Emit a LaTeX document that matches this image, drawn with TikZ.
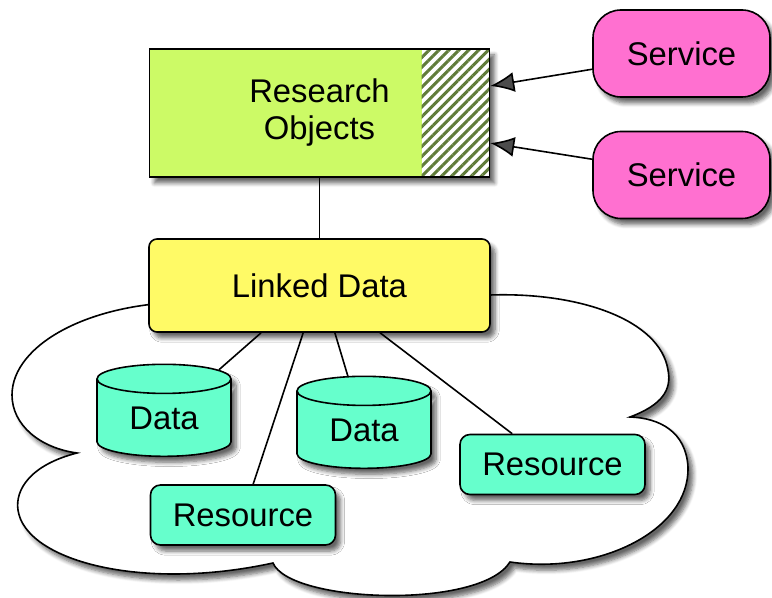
\documentclass[tikz,border=0pt]{standalone}
\usepackage{fontspec}
\setmainfont{Liberation Sans}
\usetikzlibrary{shapes.geometric,arrows.meta,patterns.meta,shadows.blur}

\definecolor{roGreen}{RGB}{204,250,102}
\definecolor{ldYellow}{RGB}{255,250,102}
\definecolor{dataTeal}{RGB}{102,255,204}
\definecolor{svcPink}{RGB}{255,112,208}
\definecolor{hatchGreen}{RGB}{96,124,58}

\tikzset{
  shade/.style={blur shadow={shadow xshift=2.5pt, shadow yshift=-3pt, shadow blur steps=6, shadow opacity=60}},
  box/.style={draw, line width=0.8pt, shade, inner sep=0pt, align=center,
    font=\fontsize{16.4}{18.5}\selectfont},
  robox/.style={box, fill=roGreen, minimum width=170pt, minimum height=64pt,
    path picture={
      \fill[white] ([xshift=-34pt]path picture bounding box.north east) rectangle (path picture bounding box.south east);
      \fill[pattern={Lines[angle=45, distance=3.5pt, line width=1.5pt]}, pattern color=hatchGreen]
        ([xshift=-34pt]path picture bounding box.north east) rectangle (path picture bounding box.south east);
    }},
  ldbox/.style={box, fill=ldYellow, rounded corners=4pt, minimum width=170.5pt, minimum height=46.5pt},
  svcbox/.style={box, fill=svcPink, rounded corners=14pt, minimum width=88.5pt, minimum height=43.5pt},
  resbox/.style={box, fill=dataTeal, rounded corners=5pt, minimum width=92.5pt, minimum height=30pt},
  database/.style={box, fill=dataTeal, shape=cylinder, shape border rotate=90, aspect=0.42,
    minimum width=67pt, minimum height=46pt},
  link/.style={line width=0.8pt},
  calls/.style={link, -{Latex[length=12pt, width=10pt]}}
}

\begin{document}
\begin{tikzpicture}[x=0.5pt, y=-0.5pt]
  \useasboundingbox (0,0) rectangle (772,598);

  % cloud
  \draw[line width=0.8pt, fill=white, shade]
    (200,302) .. controls (90,300) and (12,345) .. (12,395)
    .. controls (12,425) and (40,448) .. (77,453)
    .. controls (30,465) and (15,490) .. (18,510)
    .. controls (25,560) and (140,592) .. (273,563)
    .. controls (290,603) and (480,610) .. (510,562)
    .. controls (600,575) and (690,530) .. (688,467)
    .. controls (686,432) and (660,418) .. (630,417)
    .. controls (662,405) and (672,390) .. (668,370)
    .. controls (660,320) and (580,292) .. (490,295) -- cycle;

  \node[robox] (ro) at (319.5,113) {Research\\Objects};
  \node[ldbox] (ld) at (319.5,285.5) {Linked Data};
  \node[svcbox] (svc1) at (681.5,53.5) {Service};
  \node[svcbox] (svc2) at (681.5,175) {Service};

  \node[database] (data1) at (164,418) {Data};
  \node[database] (data2) at (364,430) {Data};
  \node[resbox] (res1) at (243,515) {Resource};
  \node[resbox] (res2) at (552.5,464.5) {Resource};

  \draw[link] (ro) -- (ld);
  \draw[calls] (svc1.190.6) -- (ro.9.3);
  \draw[calls] (svc2.170.4) -- (ro.-10.6);

  \draw[link] (ld.219) -- (data1);
  \draw[link] (ld.251.6) -- (res1);
  \draw[link] (ld.288.4) -- (data2);
  \draw[link] (ld.322.5) -- (res2);
\end{tikzpicture}
\end{document}
